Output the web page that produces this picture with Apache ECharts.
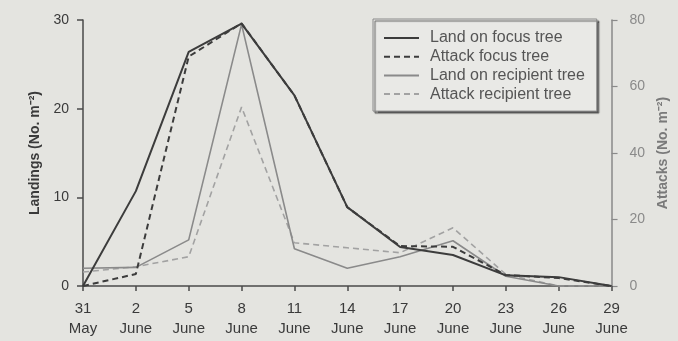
<!DOCTYPE html>
<html>
<head>
<meta charset="utf-8">
<script src="https://cdn.jsdelivr.net/npm/echarts@6/dist/echarts.min.js"></script>
<style>
  html, body { margin: 0; padding: 0; background: #e4e4e0; }
  #chart { width: 678px; height: 341px; }
</style>
</head>
<body>
<div id="chart"></div>
<script>
// Sampling dates (31 May to 29 June)
const dates = ['31\nMay', '2\nJune', '5\nJune', '8\nJune', '11\nJune', '14\nJune',
               '17\nJune', '20\nJune', '23\nJune', '26\nJune', '29\nJune'];

// Landings (No. m-2), left axis
const landFocus     = [0, 10.7, 26.4, 29.6, 21.5, 8.9, 4.4, 3.5, 1.2, 1.0, 0];
const landRecipient = [2.0, 2.1, 5.2, 29.5, 4.2, 2.0, 3.3, 5.1, 1.1, 0, 0];

// Attacks (No. m-2), right axis
const attackFocus     = [0, 3.6, 69, 79, 57.3, 23.7, 12, 11.8, 3.3, 2.4, 0];
const attackRecipient = [4.2, 5.8, 8.8, 53.8, 13, 11.5, 10, 17.5, 3.5, 0, 0];

const landTicks = [0, 10, 20, 30];
const attackTicks = [0, 20, 40, 60, 80];

const FONT = 'Liberation Sans, Arial, sans-serif';
const chart = echarts.init(document.getElementById('chart'), null, { renderer: 'canvas' });

function lineSeries(name, data, axis, color, width, dashed) {
  return {
    name, type: 'line', data, yAxisIndex: axis,
    symbol: 'none', silent: true, animation: false,
    lineStyle: { color, width, type: dashed ? [6, 4] : 'solid' },
    itemStyle: { color }
  };
}

chart.setOption({
  backgroundColor: '#e4e4e0',
  animation: false,
  textStyle: { fontFamily: FONT },
  grid: { left: 83, right: 62, top: 20, bottom: 55, containLabel: false },
  legend: {
    orient: 'vertical',
    left: 373, top: 19,
    padding: [11, 12, 9, 10],
    itemWidth: 35, itemHeight: 14, itemGap: 2.7,
    backgroundColor: '#e9e9e6',
    borderColor: '#8a8a8a', borderWidth: 1,
    shadowColor: 'rgba(70,70,70,0.85)', shadowBlur: 1, shadowOffsetX: 2, shadowOffsetY: 2,
    itemStyle: { opacity: 0 },
    textStyle: { fontSize: 16, color: '#555555', fontFamily: FONT, padding: [0, 0, 0, 6] },
    data: ['Land on focus tree', 'Attack focus tree', 'Land on recipient tree', 'Attack recipient tree']
  },
  xAxis: {
    type: 'category', data: dates, boundaryGap: false,
    axisLine: { lineStyle: { color: '#4a4a4a', width: 1.5 } },
    axisTick: { show: true, length: 5, lineStyle: { color: '#4a4a4a', width: 1.5 } },
    axisLabel: { color: '#3a3a3a', fontSize: 15, lineHeight: 20, margin: 13, fontFamily: FONT },
    splitLine: { show: false }
  },
  yAxis: [
    {
      type: 'value', min: 0, max: 30, interval: 10, position: 'left',
      name: 'Landings (No. m\u207B\u00B2)', nameLocation: 'middle', nameGap: 39, nameRotate: 90,
      nameTextStyle: { color: '#3a3a3a', fontSize: 14, fontWeight: 'bold', fontFamily: FONT },
      axisLine: { show: true, lineStyle: { color: '#4a4a4a', width: 1.5 } },
      axisTick: { show: true, length: 6, lineStyle: { color: '#4a4a4a', width: 1.5 } },
      axisLabel: { color: '#3a3a3a', fontSize: 14, margin: 14, fontFamily: FONT,
                   customValues: landTicks },
      splitLine: { show: false }
    },
    {
      type: 'value', min: 0, max: 80, interval: 20, position: 'right',
      name: 'Attacks (No. m\u207B\u00B2)', nameLocation: 'middle', nameGap: 39, nameRotate: 90,
      nameTextStyle: { color: '#7a7a7a', fontSize: 14, fontWeight: 'bold', fontFamily: FONT },
      axisLine: { show: true, lineStyle: { color: '#8a8a8a', width: 1.5 } },
      axisTick: { show: true, length: 6, lineStyle: { color: '#8a8a8a', width: 1.2 } },
      axisLabel: { color: '#8a8a8a', fontSize: 14, margin: 18, fontFamily: FONT,
                   customValues: attackTicks },
      splitLine: { show: false }
    }
  ],
  series: [
    lineSeries('Attack recipient tree', attackRecipient, 1, '#a2a2a2', 1.6, true),
    lineSeries('Land on recipient tree', landRecipient, 0, '#8a8a8a', 1.6, false),
    lineSeries('Attack focus tree', attackFocus, 1, '#3c3c3c', 2, true),
    lineSeries('Land on focus tree', landFocus, 0, '#3c3c3c', 2, false)
  ]
});
</script>
</body>
</html>
